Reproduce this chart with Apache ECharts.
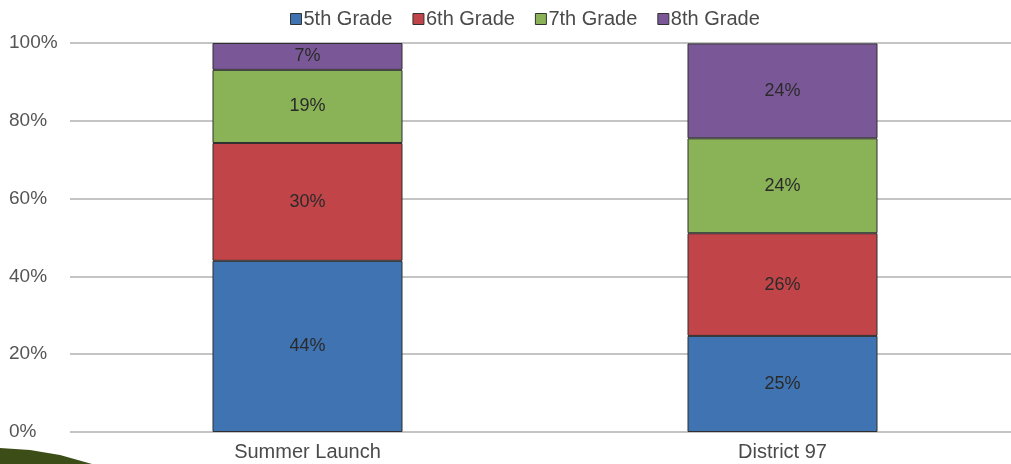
<!DOCTYPE html>
<html>
<head>
<meta charset="utf-8">
<script src="https://cdn.jsdelivr.net/npm/echarts@6/dist/echarts.min.js"></script>
<style>
  html, body { margin: 0; padding: 0; background: #fff; }
  #chart { width: 1011px; height: 464px; }
</style>
</head>
<body>
<div id="chart"></div>
<script>
const categories = ['Summer Launch', 'District 97'];
const grade5 = [44.0, 24.7];
const grade6 = [30.3, 26.4];
const grade7 = [18.8, 24.4];
const grade8 = [6.9, 24.4];
const yTicks = [0, 20, 40, 60, 80, 100];

const names = ['5th Grade', '6th Grade', '7th Grade', '8th Grade'];
const colors = ['#3f73b2', '#c14548', '#8ab358', '#7a5898'];
const values = [grade5, grade6, grade7, grade8];

let chart = echarts.init(document.getElementById('chart'));

let option = {
    animation: false,
    textStyle: { fontFamily: 'Liberation Sans, Arial, sans-serif' },
    legend: {
        data: names.map(n => ({ name: n, icon: 'rect' })),
        top: 4,
        left: 285,
        itemWidth: 11,
        itemHeight: 11,
        itemGap: 20,
        textStyle: { color: '#4a4a4a', fontSize: 20, padding: [0, 0, 0, -3] },
        itemStyle: { borderColor: '#333', borderWidth: 1 }
    },
    grid: {
        top: 43,
        left: 70,
        width: 950,
        height: 389,
        outerBoundsMode: 'none'
    },
    xAxis: {
        type: 'category',
        data: categories,
        axisLine: { show: false },
        axisTick: { show: false },
        axisLabel: { color: '#4a4a4a', fontSize: 20, margin: 10 }
    },
    yAxis: {
        type: 'value',
        min: 0,
        max: 100,
        interval: 20,
        axisLine: { show: false },
        axisTick: { show: false },
        splitLine: { lineStyle: { color: '#c4c4c4', width: 2 } },
        axisLabel: {
            color: '#555',
            fontSize: 19,
            margin: 61,
            align: 'left',
            customValues: yTicks,
            formatter: v => v + '%'
        }
    },
    graphic: [{
        type: 'polygon',
        shape: { points: [[0, 448], [30, 450], [60, 455], [92, 464], [0, 464]] },
        style: { fill: '#3c4d18' },
        z: 100
    }],
    series: names.map((n, i) => ({
        name: n,
        type: 'bar',
        stack: 'total',
        barWidth: '40%',
        data: values[i],
        itemStyle: { color: colors[i], borderColor: '#2f2f2f', borderWidth: 1 },
        label: {
            show: true,
            position: 'inside',
            color: '#2a2a2a',
            fontSize: 18,
            formatter: p => Math.round(p.value) + '%'
        }
    }))
};

chart.setOption(option);
</script>
</body>
</html>
